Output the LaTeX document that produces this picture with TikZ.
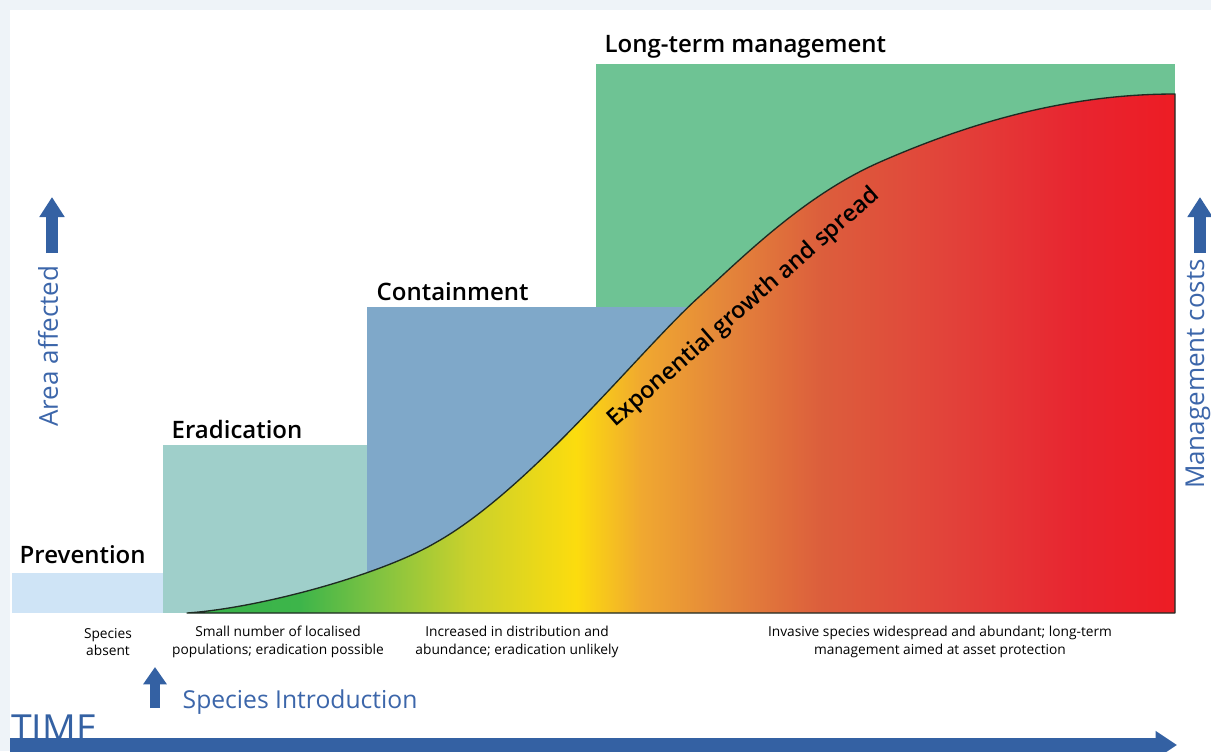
\documentclass[tikz,border=0pt]{standalone}
\usepackage{fontspec}
\setmainfont{Open Sans}[BoldFont={Open Sans Semibold}]
\usetikzlibrary{arrows.meta}

\definecolor{pagebg}{HTML}{EEF3F8}
\definecolor{prevfill}{HTML}{CFE4F6}
\definecolor{eradfill}{HTML}{9FCFCA}
\definecolor{containfill}{HTML}{7FA8C9}
\definecolor{ltmfill}{HTML}{6EC394}
\definecolor{axisblue}{HTML}{3461A3}
\definecolor{textblue}{HTML}{3C66AA}
\definecolor{curveline}{HTML}{1E2A22}
\definecolor{spreadA}{HTML}{37B34A}
\definecolor{spreadB}{HTML}{3DB54A}
\definecolor{spreadC}{HTML}{7CC242}
\definecolor{spreadD}{HTML}{C9D12C}
\definecolor{spreadE}{HTML}{FCDC0E}
\definecolor{spreadF}{HTML}{F0A830}
\definecolor{spreadG}{HTML}{E4863A}
\definecolor{spreadH}{HTML}{DC5E3C}
\definecolor{spreadI}{HTML}{E2423A}
\definecolor{spreadJ}{HTML}{E82530}
\definecolor{spreadK}{HTML}{ED1C24}

\pgfdeclarehorizontalshading{spreadshade}{100bp}{color(0bp)=(spreadA); color(25bp)=(spreadA); color(30.7bp)=(spreadB); color(34.4bp)=(spreadC); color(39.2bp)=(spreadD); color(44.7bp)=(spreadE); color(48bp)=(spreadF); color(52.2bp)=(spreadG); color(57.1bp)=(spreadH); color(63.6bp)=(spreadI); color(70bp)=(spreadJ); color(75bp)=(spreadK); color(100bp)=(spreadK)}

\begin{document}
\begin{tikzpicture}[x=0.75pt,y=0.75pt,yscale=-1,
  phaselabel/.style={anchor=base west, font=\fontsize{18}{20}\selectfont\bfseries},
  stagetext/.style={align=center, font=\fontsize{10.3}{13}\selectfont},
  axislabel/.style={rotate=90, text=textblue, font=\fontsize{19.5}{22}\selectfont},
  blockarrow/.style={draw=axisblue, line width=9pt, -{Triangle[length=15pt,width=18pt]}}]
  \useasboundingbox (0,0) rectangle (1211,751);

  %Background
  \fill[pagebg] (0,0) rectangle (1211,751);
  \fill[white] (10,10) rectangle (1211,751);

  %Management phase boxes
  \fill[ltmfill] (596,64) rectangle (1175,613);
  \fill[prevfill] (12,573) rectangle (163,613);
  \fill[eradfill] (163,445) rectangle (367,613);
  \fill[containfill] (367,307) rectangle (720,613);

  %Invasion curve
  \path[shading=spreadshade, draw=curveline, line width=1pt, line join=round]
    (187,613) .. controls (260,608) and (380,575) .. (435,543)
    .. controls (530,490) and (640,350) .. (700,296)
    .. controls (745,255) and (805,195) .. (880,162)
    .. controls (960,127) and (1060,94) .. (1175,94)
    -- (1175,613) -- cycle;

  %Phase labels
  \node[phaselabel] (prevlabel) at (15,563) {Prevention};
  \node[phaselabel] (eradlabel) at (167,438) {Eradication};
  \node[phaselabel] (containlabel) at (372,300) {Containment};
  \node[phaselabel] (ltmlabel) at (600,52) {Long-term management};
  \node[rotate=41, font=\fontsize{17.5}{20}\selectfont\bfseries] (spreadlabel) at (744,308) {Exponential growth and spread};

  %Stage descriptions
  \node[stagetext] (absent) at (108,642) {Species\\absent};
  \node[stagetext] (localised) at (278,642) {Small number of localised\\populations; eradication possible};
  \node[stagetext] (increased) at (517,642) {Increased in distribution and\\abundance; eradication unlikely};
  \node[stagetext] (widespread) at (940,642) {Invasive species widespread and abundant; long-term\\management aimed at asset protection};

  %Axis labels and arrows
  \node[axislabel] (arealabel) at (48,346) {Area affected};
  \node[axislabel] (costlabel) at (1198,374) {Management costs};
  \coordinate (areabase) at (52,253);
  \coordinate (areatip) at (52,197);
  \coordinate (costbase) at (1200,253);
  \coordinate (costtip) at (1200,197);
  \draw[blockarrow] (areabase) -- (areatip);
  \draw[blockarrow] (costbase) -- (costtip);

  %Species introduction
  \coordinate (introbase) at (155,708);
  \coordinate (introtip) at (155,667);
  \draw[blockarrow, line width=7.5pt, -{Triangle[length=13pt,width=17pt]}] (introbase) -- (introtip);
  \node[anchor=base west, text=textblue, font=\fontsize{18.5}{22}\selectfont] (introlabel) at (178,708) {Species Introduction};

  %Time axis
  \node[anchor=base west, text=axisblue, font=\fontsize{28}{32}\selectfont, inner sep=0pt] (timelabel) at (11,741) {TIME};
  \coordinate (timestart) at (10,745);
  \coordinate (timeend) at (1177,745);
  \draw[blockarrow, line width=10pt, -{Triangle[length=16pt,width=20pt]}] (timestart) -- (timeend);
\end{tikzpicture}
\end{document}
